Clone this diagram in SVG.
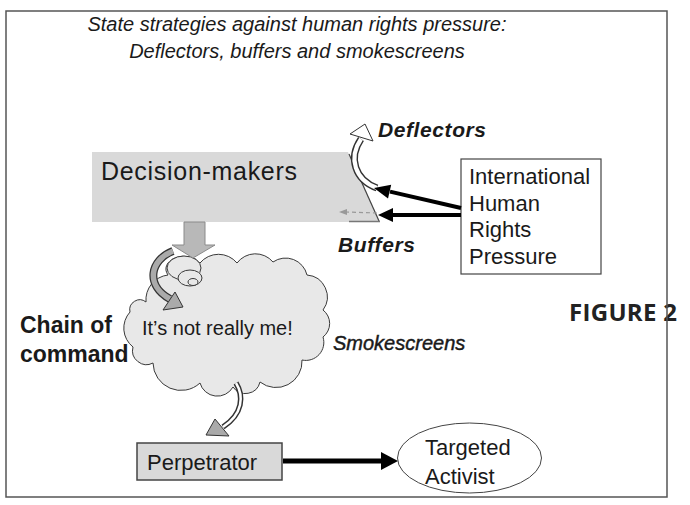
<svg xmlns="http://www.w3.org/2000/svg" width="690" height="505" viewBox="0 0 690 505">
<style>
text{font-family:"Liberation Sans",Arial,sans-serif;fill:#1a1a1a}
.ti{font-style:italic;font-size:20px}
.lbl{font-size:22px}
.bi{font-style:italic;font-weight:bold;font-size:21px}
.ol{stroke:#3a3a3a;stroke-width:1}
.fig{font-family:"Open Sans","Noto Sans",sans-serif;font-weight:bold;font-size:24px;fill:#222}
</style>
<rect width="690" height="505" fill="#fff"/>

<g id="title">
<text class="ti" x="297" y="31" text-anchor="middle">State strategies against human rights pressure:</text>
<text class="ti" x="297" y="58" text-anchor="middle">Deflectors, buffers and smokescreens</text>
</g>

<g id="figure-label">
<text class="fig" x="569" y="321" textLength="108" lengthAdjust="spacing">FIGURE 2</text>
</g>

<g id="decision-makers">
<polygon points="92,152 348,152 380,222 92,222" fill="#d9d9d9"/>
<line x1="349" y1="154" x2="379" y2="221" stroke="#444" stroke-width="1.2"/>
<line x1="349" y1="221.5" x2="380" y2="221.5" stroke="#777" stroke-width="1.5"/>
<text x="101" y="180" font-size="25" textLength="196" lengthAdjust="spacing">Decision-makers</text>
</g>

<g id="international-pressure">
<rect x="461" y="159" width="140" height="115" fill="#fff" stroke="#444" stroke-width="1.2"/>
<text class="lbl" x="469" y="184">International</text>
<text class="lbl" x="469" y="210.5">Human</text>
<text class="lbl" x="469" y="237">Rights</text>
<text class="lbl" x="469" y="263.5">Pressure</text>
</g>

<g id="smokescreen-cloud">
<path d="M130 312 A10 10 0 0 1 146 302 A25 25 0 0 1 168 275 A17 12 0 0 1 200 263 A24 24 0 0 1 237 263 A23 23 0 0 1 273 262 A22 22 0 0 1 307 275 A22 22 0 0 1 323 310 A17 17 0 0 1 323 337 A18 18 0 0 1 302 360 A26 26 0 0 1 260 382 A15 15 0 0 1 233 387 A18 18 0 0 1 200 383 A28 28 0 0 1 153 363 A14 14 0 0 1 133 347 A24 24 0 0 1 130 312 Z" fill="#e8e8e8" class="ol"/>
<ellipse cx="184" cy="268" rx="17" ry="12" fill="#e8e8e8" class="ol"/>
<ellipse cx="190" cy="278" rx="12" ry="8" fill="#e8e8e8" class="ol"/>
<ellipse cx="193" cy="282" rx="5" ry="3.5" fill="#e8e8e8" class="ol"/>
<text x="142" y="335" font-size="20">It’s not really me!</text>
</g>

<g id="perpetrator">
<rect x="137" y="443" width="145" height="37" fill="#d9d9d9" stroke="#444" stroke-width="1.5"/>
<text class="lbl" x="147" y="470">Perpetrator</text>
</g>

<g id="targeted-activist">
<ellipse cx="469.5" cy="458" rx="72" ry="35" fill="#fff" stroke="#444" stroke-width="1"/>
<text class="lbl" x="425" y="455">Targeted</text>
<text class="lbl" x="425" y="484">Activist</text>
</g>

<g id="labels">
<text class="bi" x="378" y="137" textLength="108" lengthAdjust="spacing">Deflectors</text>
<text class="bi" x="338" y="252" textLength="77" lengthAdjust="spacing">Buffers</text>
<text x="333" y="350" font-size="20" font-style="italic" stroke="#1a1a1a" stroke-width="0.45">Smokescreens</text>
<text x="20" y="333" font-size="23" font-weight="bold">Chain of</text>
<text x="20" y="362" font-size="23" font-weight="bold">command</text>
</g>

<g id="connectors">
<polygon points="184,222 205,222 205,245 215,245 193,258 172,245 184,245" fill="#b8b8b8" stroke="#8a8a8a" stroke-width="1"/>
<path d="M377 188 C355 180 348 158 361 139" fill="none" stroke="#333" stroke-width="7"/>
<path d="M377 188 C355 180 348 158 361 139" fill="none" stroke="#fff" stroke-width="4.2"/>
<polygon points="350,134 365,124 373,141" fill="#fff" stroke="#333" stroke-width="1"/>
<line x1="377" y1="213" x2="346" y2="212" stroke="#999" stroke-width="1.2" stroke-dasharray="4 3"/>
<polygon points="347,209 339,212 347,215" fill="#999"/>
<line x1="461" y1="208" x2="390" y2="191.6" stroke="#000" stroke-width="4"/>
<polygon points="391.2,184.8 374,188 388,198.4" fill="#000"/>
<line x1="461" y1="215" x2="393" y2="215" stroke="#000" stroke-width="4"/>
<polygon points="393,208 378,215 393,222" fill="#000"/>
<path d="M173 251 C150 260 145 285 170 299" fill="none" stroke="#333" stroke-width="8"/>
<path d="M173 251 C150 260 145 285 170 299" fill="none" stroke="#aaa" stroke-width="5.5"/>
<polygon points="175,292 183,307 163,310" fill="#aaa" stroke="#333" stroke-width="1"/>
<path d="M236 383 C244 396 243 414 223 427" fill="none" stroke="#333" stroke-width="5.5"/>
<path d="M236 383 C244 396 243 414 223 427" fill="none" stroke="#fff" stroke-width="2.5"/>
<polygon points="215,419 229,436 206,435" fill="#aaa" stroke="#333" stroke-width="1"/>
<line x1="283" y1="461" x2="383" y2="461" stroke="#000" stroke-width="5"/>
<polygon points="381,452 398,461 381,470" fill="#000"/>
</g>

<rect id="frame" x="6" y="11" width="661" height="486" fill="none" stroke="#555" stroke-width="1.5"/>
</svg>
